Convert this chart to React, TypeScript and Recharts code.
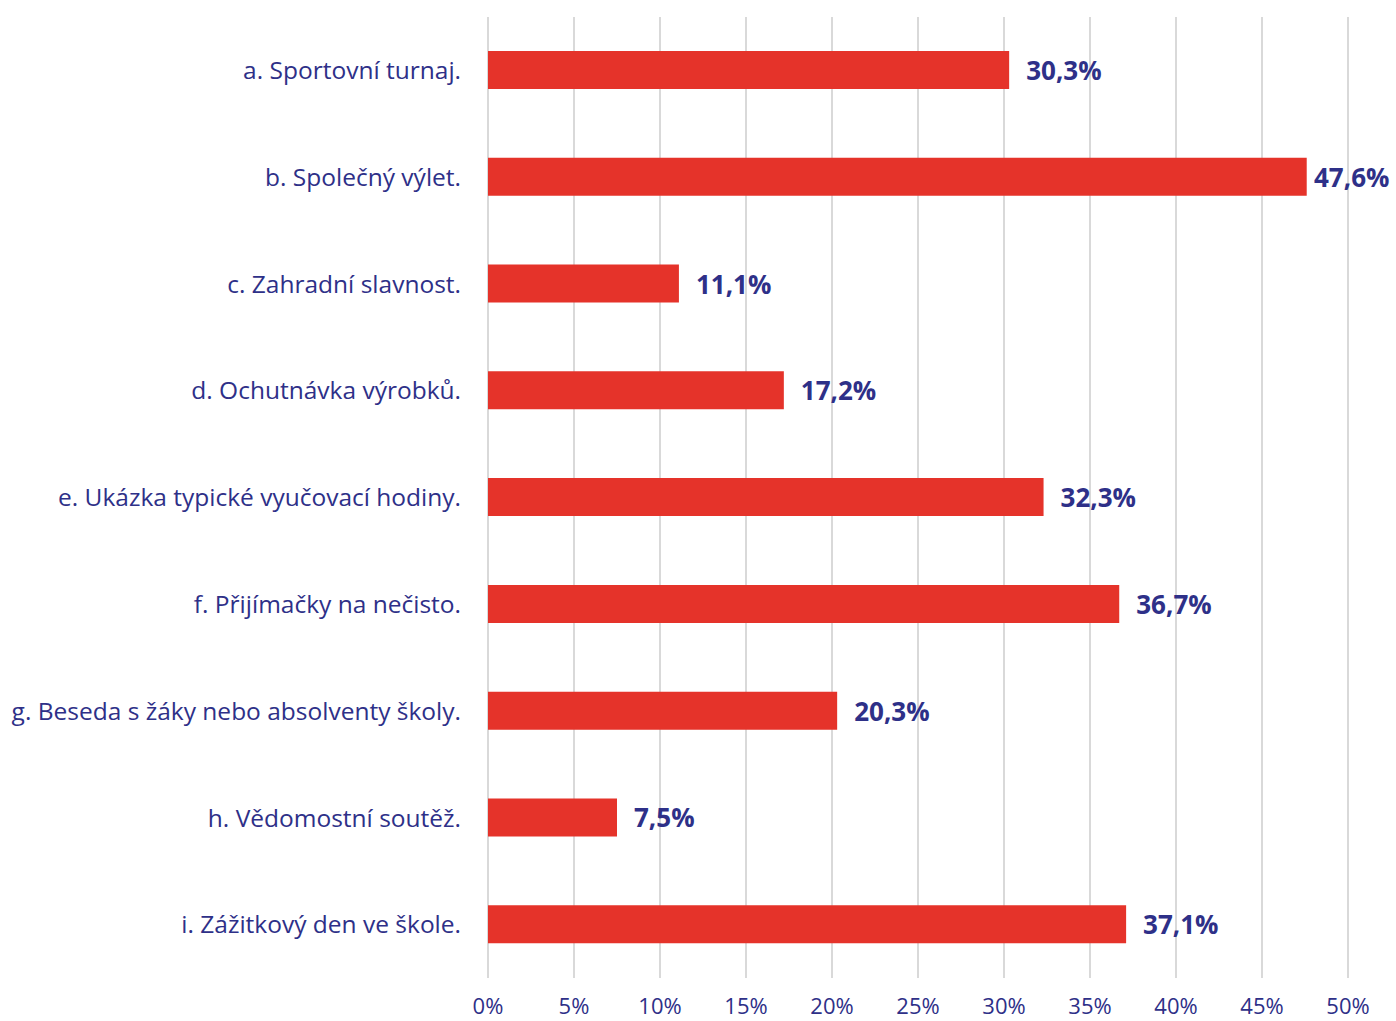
import React from "react";
import { BarChart, Bar, XAxis, YAxis, CartesianGrid, LabelList } from "recharts";

const categories = [
  "a. Sportovní turnaj.",
  "b. Společný výlet.",
  "c. Zahradní slavnost.",
  "d. Ochutnávka výrobků.",
  "e. Ukázka typické vyučovací hodiny.",
  "f. Přijímačky na nečisto.",
  "g. Beseda s žáky nebo absolventy školy.",
  "h. Vědomostní soutěž.",
  "i. Zážitkový den ve škole.",
];
const values = [30.3, 47.6, 11.1, 17.2, 32.3, 36.7, 20.3, 7.5, 37.1];
const xTicks = [0, 5, 10, 15, 20, 25, 30, 35, 40, 45, 50];

const data = categories.map((c, i) => ({ name: c, value: values[i] }));

const NAVY = "#2e3088";
const RED = "#e5332a";
const FONT = "'Open Sans', sans-serif";
const CHART_W = 1396;

const fmt = (v: number) => `${v.toFixed(1).replace(".", ",")}%`;

const ValueLabel = (props: any) => {
  const { x, y, width, height, value } = props;
  const textW = 78;
  let tx = x + width + 17;
  if (tx + textW > CHART_W - 4) tx = CHART_W - 4 - textW;
  return (
    <text
      x={tx}
      y={y + height / 2}
      dominantBaseline="central"
      fill={NAVY}
      fontSize={26}
      fontWeight={700}
      fontFamily={FONT}
    >
      {fmt(value)}
    </text>
  );
};

export default function App() {
  return (
    <div style={{ position: "absolute", left: 0, top: 0, width: 1396, height: 1021, background: "#fff" }}>
      <BarChart
        width={CHART_W}
        height={1021}
        data={data}
        layout="vertical"
        margin={{ top: 17, right: 48, bottom: 0, left: 0 }}
        barCategoryGap={0}
      >
        <CartesianGrid horizontal={false} stroke="#d9d9d9" strokeWidth={2} />
        <XAxis
          type="number"
          domain={[0, 50]}
          ticks={xTicks}
          tickFormatter={(v: number) => `${v}%`}
          axisLine={false}
          tickLine={false}
          tickSize={0}
          tickMargin={20}
          height={43}
          tick={{ fill: NAVY, fontSize: 22, fontFamily: FONT }}
          interval={0}
        />
        <YAxis
          type="category"
          dataKey="name"
          width={488}
          axisLine={false}
          tickLine={false}
          tickSize={0}
          tickMargin={27}
          tick={{ fill: NAVY, fontSize: 24.5, fontFamily: FONT }}
          interval={0}
        />
        <Bar dataKey="value" fill={RED} barSize={38} isAnimationActive={false}>
          <LabelList dataKey="value" content={ValueLabel} />
        </Bar>
      </BarChart>
    </div>
  );
}
